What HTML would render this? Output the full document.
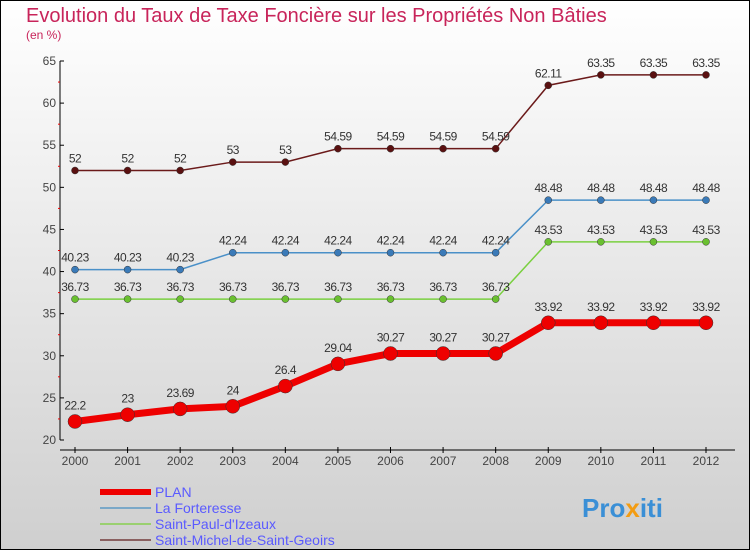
<!DOCTYPE html>
<html><head><meta charset="utf-8"><style>
body{margin:0}
svg{display:block;font-family:"Liberation Sans",sans-serif}
</style></head><body>
<svg width="750" height="550">
<defs><linearGradient id="bg" x1="0" y1="0" x2="0" y2="1"><stop offset="0" stop-color="#ffffff"/><stop offset="1" stop-color="#cfcfcf"/></linearGradient></defs>
<rect x="0.5" y="0.5" width="749" height="549" fill="url(#bg)" stroke="#000"/>
<text x="26" y="22" font-size="20" fill="#c8245a">Evolution du Taux de Taxe Foncière sur les Propriétés Non Bâties</text>
<text x="26" y="39" font-size="12" fill="#c8245a">(en %)</text>
<g id="axes"></g><g id="series"></g><g id="legend"></g>
<text x="582" y="517" font-size="26" font-weight="bold" fill="#3a8fd6">Pro<tspan fill="#f39c12">x</tspan>iti</text>
</svg>
<script>
const years=[2000,2001,2002,2003,2004,2005,2006,2007,2008,2009,2010,2011,2012];
const plan=[22.2,23,23.69,24,26.4,29.04,30.27,30.27,30.27,33.92,33.92,33.92,33.92];
const forteresse=[40.23,40.23,40.23,42.24,42.24,42.24,42.24,42.24,42.24,48.48,48.48,48.48,48.48];
const stpaul=[36.73,36.73,36.73,36.73,36.73,36.73,36.73,36.73,36.73,43.53,43.53,43.53,43.53];
const stmichel=[52,52,52,53,53,54.59,54.59,54.59,54.59,62.11,63.35,63.35,63.35];
const yTicks=[20,25,30,35,40,45,50,55,60,65];
const names=["PLAN","La Forteresse","Saint-Paul-d'Izeaux","Saint-Michel-de-Saint-Geoirs"];
const NS="http://www.w3.org/2000/svg";
const x=i=>75+i*(706-75)/(years.length-1);
const y=v=>440-(v-20)*(440-61)/45;
function mk(p,t,a){const e=document.createElementNS(NS,t);for(const k in a)e.setAttribute(k,a[k]);p.appendChild(e);return e;}
const ax=document.getElementById('axes');
let l=mk(ax,'line',{x1:60,y1:61,x2:60,y2:440,stroke:'#000'});


l=mk(ax,'line',{x1:60,y1:450,x2:735,y2:450,stroke:'#000'});


yTicks.forEach((v,i)=>{mk(ax,'line',{x1:60,x2:64,y1:y(v),y2:y(v),stroke:'#000'});
if(i<yTicks.length-1)mk(ax,'line',{x1:58,x2:60,y1:y(v+2.5),y2:y(v+2.5),stroke:'#e00'});
const t=mk(ax,'text',{x:56,y:y(v)+4,'font-size':12,fill:'#444','text-anchor':'end'});t.textContent=v;

});
years.forEach((yr,i)=>{mk(ax,'line',{x1:x(i),x2:x(i),y1:447,y2:453,stroke:'#000'});
const t=mk(ax,'text',{x:x(i),y:465,'font-size':12,fill:'#444','text-anchor':'middle'});t.textContent=yr;

});
const sg=document.getElementById('series');
const defs=[[stmichel,'#6b1a1a','#8a6060',1.5,3.5,'#5a1010'],[forteresse,'#4a90c8','#7aa8c8',1.5,3.5,'#3a7ab8'],[stpaul,'#7ad040','#9ad070',1.5,3.5,'#6ac030'],[plan,'#e00','#e00',7,7,'#e00']];
const sn=['series-saint-michel','series-la-forteresse','series-saint-paul','series-plan'];
defs.forEach((d,k)=>{const g=mk(sg,'g',{});


mk(g,'polyline',{points:d[0].map((v,i)=>x(i)+','+y(v)).join(' '),fill:'none',stroke:d[1],'stroke-width':d[3]});
d[0].forEach((v,i)=>{const c=mk(g,'circle',{cx:x(i),cy:y(v),r:d[4],fill:d[5],stroke:'#333','stroke-width':0.5});


const t=mk(g,'text',{x:x(i),y:y(v)-(k==3?12:8),'font-size':12,fill:'#333','text-anchor':'middle','letter-spacing':'-0.5'});t.textContent=v;

});});
const lg=document.getElementById('legend');
const lc=[['#e00',6],['#7aa8c8',2],['#9ad070',2],['#8a6060',2]];
names.forEach((n,i)=>{const g=mk(lg,'g',{});


mk(g,'line',{x1:100,x2:151,y1:492+i*16,y2:492+i*16,stroke:lc[i][0],'stroke-width':lc[i][1]});
const t=mk(g,'text',{x:155,y:497+i*16,'font-size':14,fill:'#5a5aff'});t.textContent=n;});
</script>
</body></html>
